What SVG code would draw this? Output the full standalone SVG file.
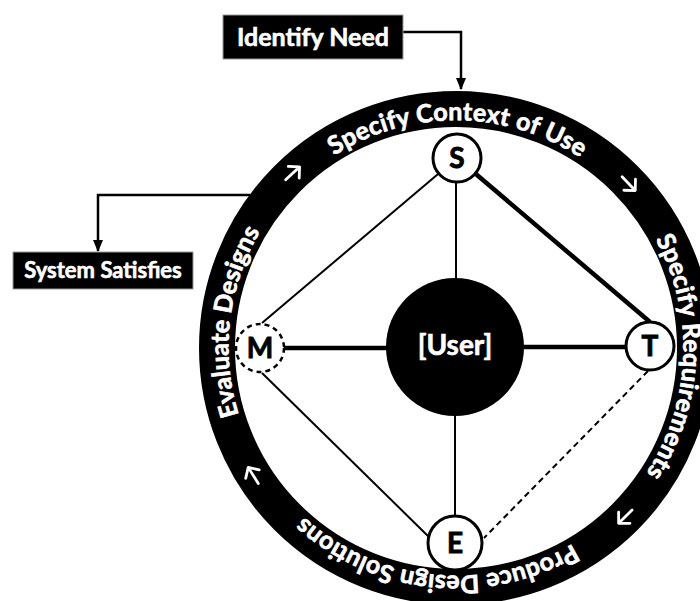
<svg xmlns="http://www.w3.org/2000/svg" width="700" height="601" viewBox="0 0 700 601">
  <style>
    text { font-family: Lato, "Open Sans", "DejaVu Sans", sans-serif; font-weight: 700; }
    .ringtext { fill: #fff; stroke: #fff; stroke-width: 0.7; font-size: 25px; }
    .boxtext { fill: #fff; stroke: #fff; stroke-width: 0.6; }
    .letter { fill: #000; stroke: #000; stroke-width: 0.9; font-size: 28px; text-anchor: middle; }
    .thin { stroke: #000; stroke-width: 2; fill: none; }
    .thick { stroke: #000; stroke-width: 4.5; fill: none; }
    .dashed { stroke: #000; stroke-width: 2; fill: none; stroke-dasharray: 6 4; }
    .flow { stroke: #000; stroke-width: 2.5; fill: none; }
    .chev { stroke: #fff; stroke-width: 2.8; fill: none; stroke-linecap: round; stroke-linejoin: round; }
    .node { fill: #fff; stroke: #000; stroke-width: 3; }
    .box { fill: #000; stroke: #999; stroke-width: 1; }
  </style>
  <defs>
    <path id="ringPath" d="M 263.5,468.3 A 227 227 0 1 1 648.5,227.7 A 227 227 0 1 1 263.5,468.3"/>
    <marker id="arr" markerUnits="userSpaceOnUse" markerWidth="12" markerHeight="12" viewBox="0 0 12 12" refX="11" refY="6" orient="auto">
      <path d="M0,1 L12,6 L0,11 Z" fill="#000"/>
    </marker>
    <g id="chevron">
      <path class="chev" d="M -10,0 L 9,0 M 1,-8 L 9,0 L 1,8"/>
    </g>
  </defs>

  <g id="cycle-ring">
    <circle cx="456" cy="348" r="239" fill="none" stroke="#000" stroke-width="36"/>
    <text class="ringtext"><textPath href="#ringPath" startOffset="154" text-anchor="middle" textLength="190" lengthAdjust="spacing">Evaluate Designs</textPath></text>
    <text class="ringtext"><textPath href="#ringPath" startOffset="486" text-anchor="middle" textLength="260" lengthAdjust="spacing">Specify Context of Use</textPath></text>
    <text class="ringtext"><textPath href="#ringPath" startOffset="851" text-anchor="middle" textLength="246" lengthAdjust="spacing">Specify Requirements</textPath></text>
    <text class="ringtext"><textPath href="#ringPath" startOffset="1221" text-anchor="middle" textLength="289" lengthAdjust="spacing">Produce Design Solutions</textPath></text>
    <use href="#chevron" transform="translate(293,173) rotate(317)"/>
    <use href="#chevron" transform="translate(629,184) rotate(46.5)"/>
    <use href="#chevron" transform="translate(625,517) rotate(135)"/>
    <use href="#chevron" transform="translate(253,475) rotate(238)"/>
  </g>

  <g id="connectors">
    <line class="thin" x1="456" y1="158" x2="456" y2="300"/>
    <line class="thin" x1="455" y1="400" x2="455" y2="543"/>
    <line class="thick" x1="260" y1="348" x2="400" y2="348"/>
    <line class="thick" x1="500" y1="347" x2="650" y2="347"/>
    <line class="thick" x1="457" y1="158" x2="650" y2="322"/>
    <line class="thin" x1="457" y1="158" x2="262" y2="323"/>
    <line class="thin" x1="262" y1="373" x2="430" y2="538"/>
    <line class="dashed" x1="648" y1="371" x2="484" y2="538"/>
    <path class="flow" d="M 403,32 H 461 V 89" marker-end="url(#arr)"/>
    <path class="flow" d="M 250,195 H 98 V 251" marker-end="url(#arr)"/>
  </g>

  <g id="node-user">
    <circle cx="455" cy="347" r="69" fill="#000"/>
    <text x="455" y="355" fill="#fff" stroke="#fff" stroke-width="0.6" font-size="28" text-anchor="middle">[User]</text>
  </g>
  <g id="node-S">
    <circle class="node" cx="457" cy="158" r="24"/>
    <text class="letter" x="457" y="168">S</text>
  </g>
  <g id="node-T">
    <circle class="node" cx="650" cy="346" r="24"/>
    <text class="letter" x="650" y="356">T</text>
  </g>
  <g id="node-M">
    <circle cx="260" cy="348" r="24" fill="#fff" stroke="#000" stroke-width="2.5" stroke-dasharray="5 4"/>
    <text class="letter" x="260" y="358">M</text>
  </g>
  <g id="node-E">
    <circle class="node" cx="455" cy="543" r="27"/>
    <text class="letter" x="455" y="553">E</text>
  </g>
  <g id="node-identify">
    <rect class="box" x="223" y="15" width="180" height="44"/>
    <text class="boxtext" x="313" y="46" font-size="25" text-anchor="middle">Identify Need</text>
  </g>
  <g id="node-satisfies">
    <rect class="box" x="13" y="252" width="180" height="37"/>
    <text class="boxtext" x="103" y="278" font-size="22" text-anchor="middle">System Satisfies</text>
  </g>
</svg>
